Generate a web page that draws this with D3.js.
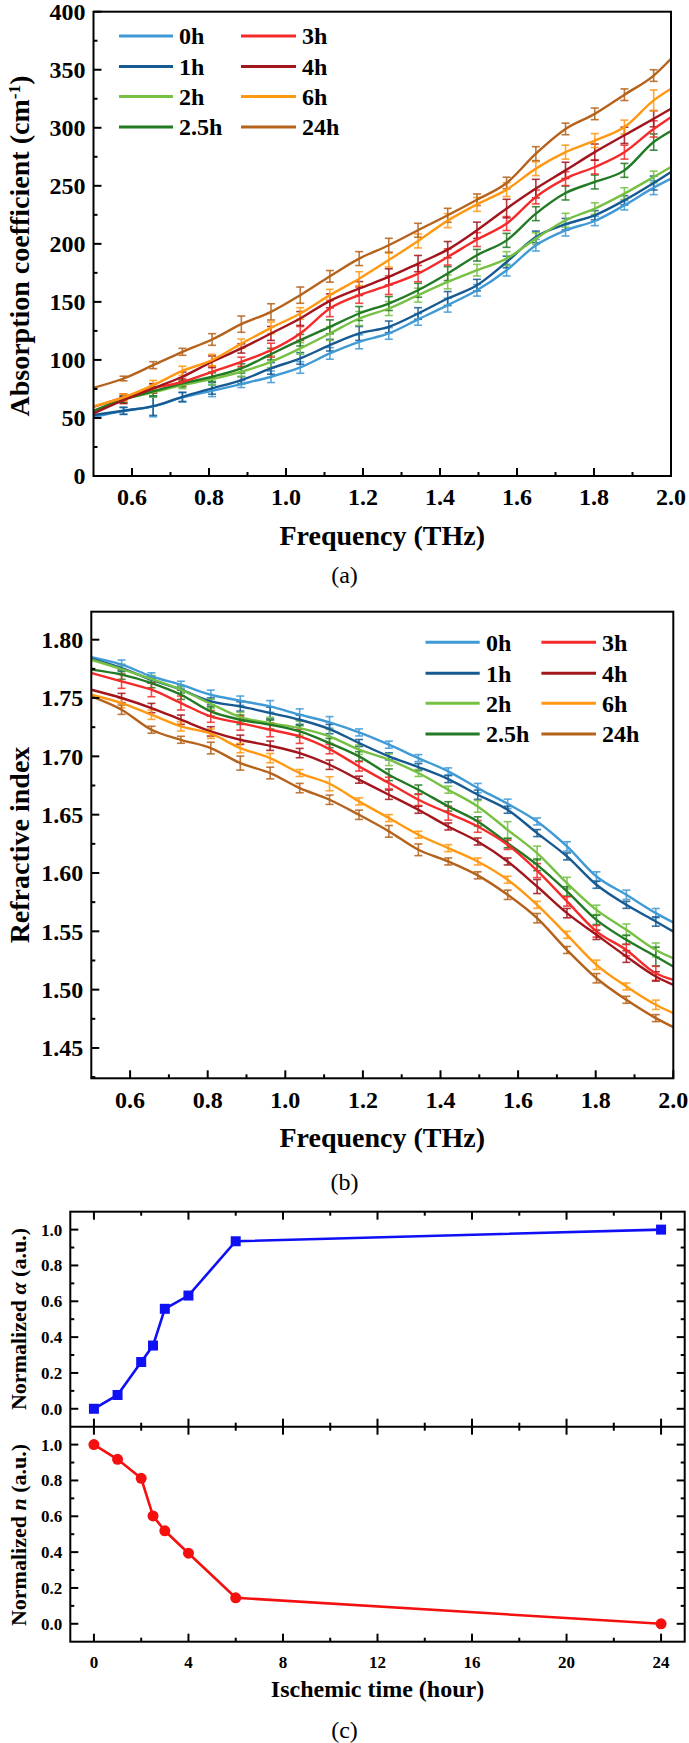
<!DOCTYPE html>
<html><head><meta charset="utf-8">
<script src="https://cdn.jsdelivr.net/npm/d3@7"></script>
<style>body{margin:0;background:#fff}svg{display:block}</style>
</head><body>
<svg id="c" width="689" height="1743" font-family="Liberation Serif"></svg>
<script>
// ---------- DATA ----------
const seriesNames = ["0h","1h","2h","2.5h","3h","4h","6h","24h"];
const seriesColors = ["#3f9ad6","#175a92","#76c043","#227a24","#f52a2a","#a3151c","#ff9912","#b5621b"];
const freq = [0.50,0.578,0.655,0.731,0.808,0.884,0.961,1.037,1.114,1.190,1.267,1.343,1.420,1.496,1.573,1.649,1.726,1.802,1.879,1.955,2.00];

// absorption coefficient (cm^-1)
const abs0h  = [51,56,60,67.7,73.4,79.2,85.5,93.5,105.6,115.6,122.8,134.9,147.2,160,177.3,198.8,211.7,219.7,233.2,248.4,256.2];
const abs1h  = [52.5,56.2,60.2,68.2,75.5,82.6,92.7,101.3,112.7,122.8,128.5,140,152.9,164.4,184.4,206,216.9,224.6,237.5,252.4,261.9];
const abs2h  = [56,66,72,78.3,83.5,89.8,98.4,109.9,122.8,135.7,144.3,155.8,167.2,177.3,187.3,204.5,220.3,230.4,243.3,257.6,266.2];
const abs25h = [56,66,73,79.8,85.5,92.7,105,117,128.5,140,148.6,160,174.4,190.2,203,226,243.8,253.3,263.3,287.7,297.2];
const abs3h  = [59.6,67.7,75.5,81,89.8,98.4,108.4,122.8,144.3,155.8,164.4,174.4,188.7,203.7,217.5,240.4,256.2,266.2,279,299,309.2];
const abs4h  = [54,65.4,75.5,85.5,98.4,109.9,122.8,135.7,150.9,161.5,171.5,183,195,211.7,230.4,247.6,263.3,279,293.5,307.8,316.4];
const abs6h  = [60,67.7,78.3,90.6,99.8,114,127.6,140,155.8,170,186,202.5,220,234,246.7,264.8,279,289,300.6,323.6,333.6];
const abs24h = [76,84,95.5,107,117.6,130.8,141.4,155.8,172,187.3,198.8,211.7,224.6,238,252.4,277.7,299,312,328.5,345,359.5];
// error half-widths at error-bar frequencies (freq[1..19])
const absErr0h  = [3,9,4,5,3,5,5,5,6,5,5,6,5,5,5,5,4,4,6];
const absErr1h  = [3,8,4,5,3,5,5,5,6,5,5,6,5,5,5,5,4,4,6];
const absErr2h  = [3,4,3,5,4,5,5,6,6,6,6,6,5,6,5,6,5,5,5];
const absErr25h = [3,4,3,4,4,5,5,6,6,6,6,6,5,6,6,6,6,6,7];
const absErr3h  = [3,4,3,5,4,6,6,7,7,8,7,7,6,6,6,6,6,6,7];
const absErr4h  = [3,4,4,5,4,6,6,6,6,7,7,7,7,8,8,7,7,7,7];
const absErr6h  = [3,4,4,5,4,5,5,5,6,6,6,6,6,6,6,6,6,6,9];
const absErr24h = [2,3,3,5,7,7,7,5,6,6,6,6,5,5,6,5,5,5,5];

// refractive index
const ri0h  = [1.785,1.7786,1.7686,1.7614,1.7528,1.7477,1.7428,1.7357,1.7291,1.7205,1.710,1.6985,1.6871,1.6728,1.6593,1.6442,1.6228,1.597,1.5813,1.5656,1.5576];
const ri1h  = [1.7837,1.7757,1.7657,1.7571,1.7471,1.7428,1.7371,1.7314,1.7234,1.7114,1.700,1.6908,1.6805,1.6671,1.6542,1.6342,1.6142,1.5899,1.5727,1.5584,1.5498];
const ri2h  = [1.7828,1.7748,1.7663,1.7571,1.7451,1.7337,1.7285,1.7242,1.7171,1.7057,1.6971,1.6857,1.6714,1.6571,1.637,1.617,1.5913,1.5684,1.5513,1.534,1.5269];
const ri25h = [1.7743,1.770,1.7628,1.7528,1.7385,1.7314,1.7271,1.7214,1.7114,1.700,1.6842,1.6714,1.6571,1.6442,1.6256,1.607,1.5842,1.5598,1.5427,1.5284,1.5198];
const ri3h  = [1.7714,1.7643,1.7571,1.7457,1.7342,1.7285,1.7228,1.7171,1.7062,1.6914,1.6771,1.6628,1.6513,1.6399,1.6242,1.602,1.5756,1.550,1.534,1.514,1.5083];
const ri4h  = [1.7571,1.750,1.7414,1.7314,1.7214,1.7142,1.7091,1.7028,1.6928,1.680,1.6671,1.6542,1.6399,1.627,1.6099,1.5884,1.5656,1.547,1.5284,1.5113,1.5041];
const ri6h  = [1.7528,1.7457,1.7357,1.7257,1.7194,1.7071,1.6985,1.6857,1.6765,1.6614,1.6471,1.6328,1.6213,1.6099,1.5942,1.5727,1.547,1.5213,1.5027,1.487,1.4798];
const ri24h = [1.7514,1.740,1.7228,1.7142,1.7071,1.6942,1.6857,1.6728,1.6628,1.6499,1.6357,1.6199,1.6099,1.598,1.5813,1.5613,1.534,1.5098,1.4913,1.4756,1.4679];
const riErr0h  = [.004,.003,.003,.004,.004,.005,.005,.005,.003,.003,.003,.003,.004,.004,.003,.004,.004,.004,.004];
const riErr1h  = [.003,.003,.003,.003,.004,.005,.004,.004,.003,.003,.003,.003,.004,.003,.003,.003,.003,.003,.004];
const riErr2h  = [.004,.003,.003,.004,.004,.005,.006,.006,.004,.005,.003,.003,.005,.007,.006,.005,.004,.005,.006];
const riErr25h = [.004,.004,.004,.004,.004,.004,.005,.004,.004,.005,.004,.004,.004,.004,.005,.004,.004,.004,.008];
const riErr3h  = [.006,.006,.006,.005,.006,.006,.006,.004,.004,.005,.005,.006,.005,.004,.006,.004,.005,.005,.006];
const riErr4h  = [.004,.004,.004,.004,.004,.004,.004,.004,.003,.004,.003,.003,.003,.003,.006,.004,.004,.005,.004];
const riErr6h  = [.004,.004,.004,.004,.004,.004,.003,.006,.003,.003,.003,.003,.003,.003,.003,.003,.004,.003,.004];
const riErr24h = [.004,.003,.003,.005,.006,.005,.004,.004,.004,.005,.005,.003,.003,.004,.004,.003,.004,.003,.003];

const absSeries = [abs0h,abs1h,abs2h,abs25h,abs3h,abs4h,abs6h,abs24h];
const absErrs   = [absErr0h,absErr1h,absErr2h,absErr25h,absErr3h,absErr4h,absErr6h,absErr24h];
const riSeries  = [ri0h,ri1h,ri2h,ri25h,ri3h,ri4h,ri6h,ri24h];
const riErrs    = [riErr0h,riErr1h,riErr2h,riErr25h,riErr3h,riErr4h,riErr6h,riErr24h];

const absTicks = [0,50,100,150,200,250,300,350,400];
const riTicks = [1.45,1.50,1.55,1.60,1.65,1.70,1.75,1.80];
const freqTicks = [0.6,0.8,1.0,1.2,1.4,1.6,1.8,2.0];

const hours = [0,1,2,2.5,3,4,6,24];
const normAlpha = [0,0.077,0.261,0.353,0.558,0.632,0.935,1.0];
const normN = [1.0,0.918,0.812,0.602,0.519,0.394,0.145,0.0];
const hourTicks = [0,4,8,12,16,20,24];
const normTicks = [0.0,0.2,0.4,0.6,0.8,1.0];

// ---------- DRAW ----------
const FONT = "Liberation Serif";
const svg = d3.select("#c");
svg.append("rect").attr("width",689).attr("height",1743).attr("fill","#fff");

function frame(x0,x1,y0,y1,sw){
  svg.append("rect").attr("x",x0).attr("y",y0).attr("width",x1-x0).attr("height",y1-y0)
    .attr("fill","none").attr("stroke","#000").attr("stroke-width",sw);
}
function tickLine(x1,y1,x2,y2,sw){
  svg.append("line").attr("x1",x1).attr("y1",y1).attr("x2",x2).attr("y2",y2).attr("stroke","#000").attr("stroke-width",sw||2);
}
function label(x,y,t,size,anchor,weight){
  return svg.append("text").attr("x",x).attr("y",y).attr("dy","0.35em").attr("text-anchor",anchor||"middle")
    .attr("font-family",FONT).attr("font-size",size).attr("font-weight",weight||"bold").text(t);
}

function spectrumPanel(cfg){
  const x = d3.scaleLinear().domain([0.5,2.0]).range([cfg.x0,cfg.x1]);
  const y = d3.scaleLinear().domain(cfg.yDomain).range([cfg.y1,cfg.y0]);
  const line = d3.line().x((d,i)=>x(freq[i])).y(d=>y(d)).curve(d3.curveMonotoneX);
  const g = svg.append("g");
  cfg.series.forEach((s,k)=>{
    const col = seriesColors[k];
    cfg.errs[k].forEach((e,j)=>{
      const i=j+1, cx=x(freq[i]);
      const ya=y(s[i]-e), yb=y(s[i]+e);
      g.append("line").attr("x1",cx).attr("x2",cx).attr("y1",ya).attr("y2",yb).attr("stroke",col).attr("stroke-width",1.6).attr("opacity",0.85);
      [ya,yb].forEach(yy=>g.append("line").attr("x1",cx-4).attr("x2",cx+4).attr("y1",yy).attr("y2",yy).attr("stroke",col).attr("stroke-width",1.6).attr("opacity",0.85));
    });
  });
  cfg.series.forEach((s,k)=>{
    g.append("path").datum(s).attr("d",line).attr("fill","none").attr("stroke",seriesColors[k]).attr("stroke-width",2.4);
  });
  frame(cfg.x0,cfg.x1,cfg.y0,cfg.y1,2);
  cfg.yTicks.forEach(v=>{ tickLine(cfg.x0,y(v),cfg.x0+8,y(v)); label(cfg.x0-8,y(v),cfg.fmt(v),24,"end"); });
  cfg.yMinor.forEach(v=>tickLine(cfg.x0,y(v),cfg.x0+4,y(v)));
  freqTicks.forEach(v=>{ tickLine(x(v),cfg.y1,x(v),cfg.y1-8); label(x(v),cfg.y1+21,v.toFixed(1),24); });
  [0.7,0.9,1.1,1.3,1.5,1.7,1.9].forEach(v=>tickLine(x(v),cfg.y1,x(v),cfg.y1-4));
  label((cfg.x0+cfg.x1)/2, cfg.titleY, "Frequency (THz)", 28);
  seriesNames.forEach((n,k)=>{
    const col = Math.floor(k/4), row=k%4;
    const L = cfg.legend;
    const ly = L.rows[row];
    svg.append("line").attr("x1",L.lineX[col][0]).attr("x2",L.lineX[col][1]).attr("y1",ly).attr("y2",ly).attr("stroke",seriesColors[k]).attr("stroke-width",3);
    label(L.textX[col], ly, n, 24, "start");
  });
  return {x,y};
}

function vtitle(x,y,size,parts){
  const t = svg.append("text").attr("transform",`translate(${x},${y}) rotate(-90)`).attr("text-anchor","middle")
    .attr("font-family",FONT).attr("font-size",size).attr("font-weight","bold").attr("dy","0.35em");
  parts.forEach(p=>{
    const s=t.append("tspan").text(p.t);
    if(p.italic) s.attr("font-style","italic");
    if(p.sup) s.attr("baseline-shift","super").attr("font-size",size*0.62);
  });
}

// Panel (a)
spectrumPanel({x0:93.5,x1:671,y0:11.7,y1:476,yDomain:[0,400],series:absSeries,errs:absErrs,
  yTicks:absTicks, yMinor:[25,75,125,175,225,275,325,375], fmt:v=>String(v), titleY:535,
  legend:{rows:[36,66.5,96.5,127], lineX:[[119,173],[241,296]], textX:[179,302]}});
vtitle(19,246,28,[{t:"Absorption coefficient  (cm"},{t:"-1",sup:true},{t:")"}]);
label(344.5,575,"(a)",24,"middle","normal");

// Panel (b)
spectrumPanel({x0:91.3,x1:673.3,y0:611.7,y1:1078.3,yDomain:[1.424,1.824],series:riSeries,errs:riErrs,
  yTicks:riTicks, yMinor:[1.425,1.475,1.525,1.575,1.625,1.675,1.725,1.775], fmt:v=>v.toFixed(2), titleY:1137,
  legend:{rows:[642.3,673.3,703.3,734], lineX:[[425.5,479.7],[541.4,596]], textX:[486,602]}});
vtitle(19,845,28,[{t:"Refractive index"}]);
label(344.5,1182,"(b)",24,"middle","normal");

// Panel (c)
const cx0=70.3, cx1=684.7, cTop=1211.7, cMid=1426.7, cBot=1641.7;
const xh = d3.scaleLinear().domain([-1,25]).range([cx0,cx1]);
const yU = d3.scaleLinear().domain([-0.1,1.1]).range([cMid,cTop]);
const yL = d3.scaleLinear().domain([-0.1,1.1]).range([cBot,cMid]);
const lineU = d3.line().x((d,i)=>xh(hours[i])).y(d=>yU(d));
const lineL = d3.line().x((d,i)=>xh(hours[i])).y(d=>yL(d));
svg.append("path").datum(normAlpha).attr("d",lineU).attr("fill","none").attr("stroke","#1010f5").attr("stroke-width",2.6);
svg.selectAll(".sq").data(normAlpha).enter().append("rect")
  .attr("x",(d,i)=>xh(hours[i])-5).attr("y",d=>yU(d)-5).attr("width",10).attr("height",10).attr("fill","#1010f5");
svg.append("path").datum(normN).attr("d",lineL).attr("fill","none").attr("stroke","#f51010").attr("stroke-width",2.6);
svg.selectAll(".ci").data(normN).enter().append("circle")
  .attr("cx",(d,i)=>xh(hours[i])).attr("cy",d=>yL(d)).attr("r",5.5).attr("fill","#f51010");

frame(cx0,cx1,cTop,cBot,2);
tickLine(cx0,cMid,cx1,cMid,2);
const hMinor=[2,6,10,14,18,22];
hourTicks.forEach(v=>{
  const xx=xh(v);
  tickLine(xx,cTop,xx,cTop+8); tickLine(xx,cMid-8,xx,cMid+8); tickLine(xx,cBot,xx,cBot-8);
  label(xx,1662,String(v),17);
});
hMinor.forEach(v=>{
  const xx=xh(v);
  tickLine(xx,cTop,xx,cTop+4); tickLine(xx,cMid-4,xx,cMid+4); tickLine(xx,cBot,xx,cBot-4);
});
[yU,yL].forEach(ys=>{
  normTicks.forEach(v=>{
    tickLine(cx0,ys(v),cx0+8,ys(v)); tickLine(cx1,ys(v),cx1-8,ys(v));
    label(cx0-8,ys(v),v.toFixed(1),17,"end");
  });
  [0.1,0.3,0.5,0.7,0.9].forEach(v=>{ tickLine(cx0,ys(v),cx0+4,ys(v)); tickLine(cx1,ys(v),cx1-4,ys(v)); });
});
label((cx0+cx1)/2,1689,"Ischemic time (hour)",24);
vtitle(18,1319,22,[{t:"Normalized "},{t:"α",italic:true},{t:" (a.u.)"}]);
vtitle(18,1535,22,[{t:"Normalized "},{t:"n",italic:true},{t:" (a.u.)"}]);
label(344.5,1730,"(c)",24,"middle","normal");
</script>
</body></html>
